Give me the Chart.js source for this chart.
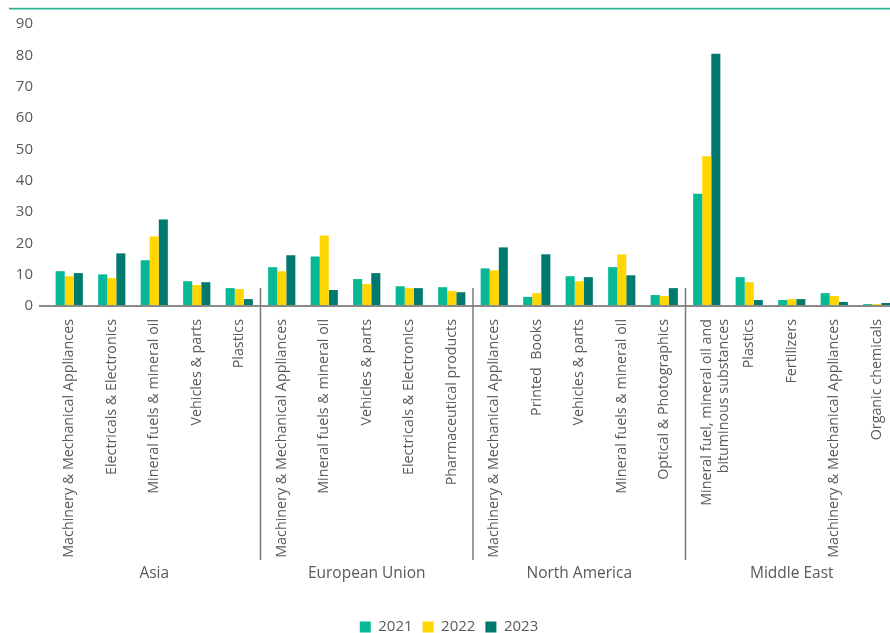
<!DOCTYPE html>
<html>
<head>
<meta charset="utf-8">
<script src="https://cdn.jsdelivr.net/npm/chart.js@4"></script>
<style>
  html, body { margin: 0; padding: 0; background: #fff; overflow: hidden; }
  #trade-chart { position: absolute; left: 0; top: 0; }
</style>
</head>
<body>
<canvas id="trade-chart" width="900" height="633"></canvas>
<script>
const productLabels = [
  "Machinery & Mechanical Appliances",
  "Electricals & Electronics",
  "Mineral fuels & mineral oil",
  "Vehicles & parts",
  "Plastics",
  "Machinery & Mechanical Appliances",
  "Mineral fuels & mineral oil",
  "Vehicles & parts",
  "Electricals & Electronics",
  "Pharmaceutical products",
  "Machinery & Mechanical Appliances",
  "Printed  Books",
  "Vehicles & parts",
  "Mineral fuels & mineral oil",
  "Optical & Photographics",
  ["Mineral fuel, mineral oil and", "bituminous substances"],
  "Plastics",
  "Fertilizers",
  "Machinery & Mechanical Appliances",
  "Organic chemicals",
];
const regions = ["Asia", "European Union", "North America", "Middle East"];
const regionSizes = [5, 5, 5, 5];
const years = ["2021", "2022", "2023"];

const values2021 = [11.1, 10.1, 14.6, 7.9, 5.7, 12.4, 15.8, 8.6, 6.3, 6.0, 12.0, 2.9, 9.5, 12.4, 3.5, 35.8, 9.2, 1.9, 4.1, 0.6];
const values2022 = [9.5, 8.9, 22.2, 6.7, 5.4, 11.1, 22.5, 7.0, 5.7, 4.8, 11.4, 4.1, 7.9, 16.5, 3.2, 47.8, 7.6, 2.2, 3.2, 0.6];
const values2023 = [10.5, 16.8, 27.6, 7.6, 2.2, 16.2, 5.1, 10.5, 5.7, 4.4, 18.7, 16.5, 9.2, 9.8, 5.7, 80.5, 1.9, 2.2, 1.3, 0.95];

const colors = ["#06B896", "#FFD600", "#00796E"];
const textColor = "#595959";
const fontFamily = "'Open Sans', 'Noto Sans', sans-serif";

// dividers, region names, axis line and the thin line on top
const extrasPlugin = {
  id: "extras",
  afterDraw(chart) {
    const ctx = chart.ctx;
    const x = chart.scales.x;
    const area = chart.chartArea;
    ctx.save();

    ctx.fillStyle = "#d4efe8";
    ctx.fillRect(9, 7, 900, 1);
    ctx.fillStyle = "#26B48F";
    ctx.fillRect(9, 8, 900, 1.5);

    ctx.strokeStyle = "#8a8a8a";
    ctx.lineWidth = 2;
    ctx.beginPath();
    ctx.moveTo(39, area.bottom);
    ctx.lineTo(chart.width, area.bottom);
    ctx.stroke();

    ctx.strokeStyle = "#7a7a7a";
    ctx.lineWidth = 1.5;
    ctx.font = "15.5px " + fontFamily;
    ctx.fillStyle = textColor;
    ctx.textAlign = "center";
    ctx.textBaseline = "middle";
    let start = 0;
    regionSizes.forEach((size, i) => {
      const end = start + size - 1;
      const center = (x.getPixelForValue(start) + x.getPixelForValue(end)) / 2;
      ctx.fillText(regions[i], center, 574);
      if (i > 0) {
        const divX = (x.getPixelForValue(start - 1) + x.getPixelForValue(start)) / 2;
        ctx.beginPath();
        ctx.moveTo(divX, area.bottom - 18);
        ctx.lineTo(divX, 560);
        ctx.stroke();
      }
      start += size;
    });
    ctx.restore();
  },
};

const tradeChart = new Chart(document.getElementById("trade-chart"), {
  type: "bar",
  data: {
    labels: productLabels,
    datasets: [
      { label: years[0], data: values2021, backgroundColor: colors[0] },
      { label: years[1], data: values2022, backgroundColor: colors[1] },
      { label: years[2], data: values2023, backgroundColor: colors[2] },
    ],
  },
  options: {
    responsive: false,
    animation: false,
    layout: { padding: { top: 22, right: 2, left: 0, bottom: 0 } },
    datasets: {
      bar: { categoryPercentage: 0.64, barPercentage: 1.0, borderWidth: 0 },
    },
    scales: {
      x: {
        grid: { display: false, drawTicks: false },
        border: { display: false },
        ticks: {
          autoSkip: false,
          minRotation: 90,
          maxRotation: 90,
          padding: 13,
          color: textColor,
          font: { family: fontFamily, size: 14.3 },
        },
        afterFit(scale) {
          scale.height = 303.5;
          scale.paddingLeft = 0;
          scale.paddingRight = 0;
        },
      },
      y: {
        min: 0,
        max: 90,
        grid: { display: false, drawTicks: false },
        border: { display: false },
        ticks: {
          stepSize: 10,
          padding: 15,
          color: textColor,
          font: { family: fontFamily, size: 15 },
        },
        afterFit(scale) {
          scale.width = 48;
        },
      },
    },
    plugins: {
      tooltip: { enabled: false },
      legend: {
        display: true,
        position: "bottom",
        align: "center",
        maxHeight: 23.5,
        labels: {
          boxWidth: 11,
          boxHeight: 11,
          padding: 10,
          color: textColor,
          font: { family: fontFamily, size: 15 },
        },
      },
    },
  },
  plugins: [extrasPlugin],
});
</script>
</body>
</html>
